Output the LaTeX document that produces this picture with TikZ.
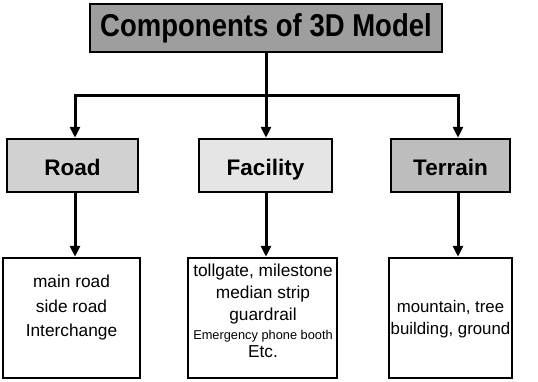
\documentclass[tikz,border=0pt]{standalone}
\usepackage{fontspec}
\setmainfont{Liberation Sans}
\usetikzlibrary{arrows.meta}
\definecolor{titlefill}{gray}{0.62}
\definecolor{roadfill}{gray}{0.82}
\definecolor{facfill}{gray}{0.90}
\definecolor{terfill}{gray}{0.74}
\begin{document}
\begin{tikzpicture}[x=1pt,y=-1pt,
  box/.style={draw=black, line width=2.5pt, inner sep=0pt, align=center},
  headbox/.style={box, font=\fontsize{22.5}{26}\selectfont\bfseries, text height=22pt, text depth=2pt},
  listtxt/.style={inner sep=0pt, align=center, font=\fontsize{17.3}{24.5}\selectfont},
  conn/.style={line width=3pt},
  arr/.style={line width=3pt, -{Triangle[width=10pt,length=11pt]}}]
\useasboundingbox (0,0) rectangle (538,381);
% title
\node[box, fill=titlefill, minimum width=352pt, minimum height=48pt,
      font=\fontsize{27.5}{30}\selectfont\bfseries] (title) at (266,28) {\raisebox{-3pt}{\scalebox{1}[1.15]{Components of 3D Model}}};
% second level
\node[headbox, fill=roadfill, minimum width=131pt, minimum height=53pt] (road) at (72.5,165.5) {Road};
\node[headbox, fill=facfill, minimum width=133pt, minimum height=53pt] (fac) at (265.5,165.5) {Facility};
\node[headbox, fill=terfill, minimum width=119pt, minimum height=53pt] (ter) at (450.5,165.5) {Terrain};
% third level
\node[box, minimum width=137pt, minimum height=120pt] (roadB) at (71.5,318) {};
\node[box, minimum width=149pt, minimum height=120pt] (facB) at (262.5,318) {};
\node[box, minimum width=123pt, minimum height=120pt] (terB) at (450.5,318) {};
\node[listtxt] (roadT) at (71.5,308) {main road\\side road\\Interchange};
\node[listtxt, font=\fontsize{17.3}{22}\selectfont] (facT) at (263,311) {tollgate, milestone\\median strip\\guardrail\\[-3.5pt]{\fontsize{12.8}{15}\selectfont Emergency phone booth}\\[-3.5pt]Etc.};
\node[listtxt, font=\fontsize{16.8}{22}\selectfont] (terT) at (450.5,319) {mountain, tree\\building, ground};
% connectors
\coordinate (j) at (266,95);
\coordinate (jl) at (75,95);
\coordinate (jr) at (458,95);
\draw[conn] (title.south) -- (j);
\draw[conn, line cap=rect] (jl) -- (jr);
\draw[arr] (jl) -- (jl |- road.north);
\draw[arr] (j) -- (j |- fac.north);
\draw[arr] (jr) -- (jr |- ter.north);
\draw[arr] (jl |- road.south) -- (jl |- roadB.north);
\draw[arr] (j |- fac.south) -- (j |- facB.north);
\draw[arr] (jr |- ter.south) -- (jr |- terB.north);
\end{tikzpicture}
\end{document}
